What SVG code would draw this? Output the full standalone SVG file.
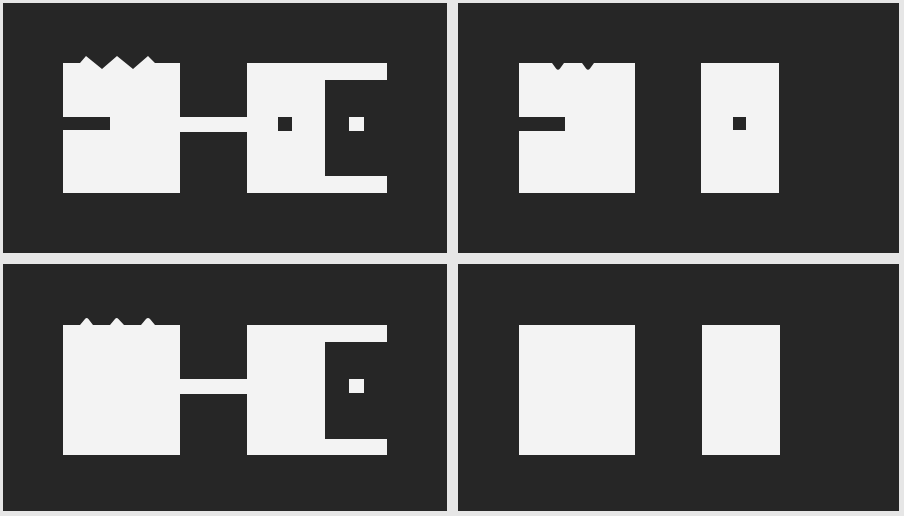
<svg xmlns="http://www.w3.org/2000/svg" width="904" height="516" viewBox="0 0 904 516">
  <style>
    .panel { fill: #262626; }
    .w { fill: #f3f3f3; }
    .k { fill: #262626; }
  </style>
  <rect x="0" y="0" width="904" height="516" fill="#e6e6e6"/>
  <g id="panel-top-left">
    <rect class="panel" x="3" y="3" width="444" height="250"/>
    <g id="tl-left-block">
      <path class="w" d="M63,63 H80 L86,56 L102,69 L117,56 L133,69 L148,56 L155,63 H180 V193 H63 Z"/>
      <rect class="k" x="63" y="117" width="47" height="13"/>
    </g>
    <g id="tl-bar"><rect class="w" x="179" y="117" width="69" height="15"/></g>
    <g id="tl-right-block">
      <path class="w" d="M247,63 H387 V80 H325 V176 H387 V193 H247 Z"/>
      <rect class="k" x="278" y="117" width="14" height="14"/>
      <rect class="w" x="349" y="117" width="15" height="14"/>
    </g>
  </g>
  <g id="panel-top-right">
    <rect class="panel" x="458" y="3" width="441" height="250"/>
    <g id="tr-left-block">
      <path class="w" d="M519,63 H552 L556,68.5 Q558,71 560,68.5 L564,63 H582 L586,68.5 Q588,71 590,68.5 L594,63 H635 V193 H519 Z"/>
      <rect class="k" x="519" y="117" width="46" height="14"/>
    </g>
    <g id="tr-right-block">
      <rect class="w" x="701" y="63" width="78" height="130"/>
      <rect class="k" x="733" y="117" width="13" height="13"/>
    </g>
  </g>
  <g id="panel-bottom-left">
    <rect class="panel" x="3" y="264" width="444" height="247"/>
    <g id="bl-left-block">
      <path class="w" d="M63,325 H80 L85,319 Q86.7,317 88.4,319 L93,325 H110 L115,319 Q116.7,317 118.4,319 L124,325 H141 L146,319 Q148,317 150,319 L155,325 H180 V455 H63 Z"/>
    </g>
    <g id="bl-bar"><rect class="w" x="179" y="379" width="69" height="15"/></g>
    <g id="bl-right-block">
      <path class="w" d="M247,325 H387 V342 H325 V439 H387 V455 H247 Z"/>
      <rect class="w" x="349" y="379" width="15" height="14"/>
    </g>
  </g>
  <g id="panel-bottom-right">
    <rect class="panel" x="458" y="264" width="441" height="247"/>
    <g id="br-left-block"><rect class="w" x="519" y="325" width="116" height="130"/></g>
    <g id="br-right-block"><rect class="w" x="702" y="325" width="78" height="130"/></g>
  </g>
</svg>
